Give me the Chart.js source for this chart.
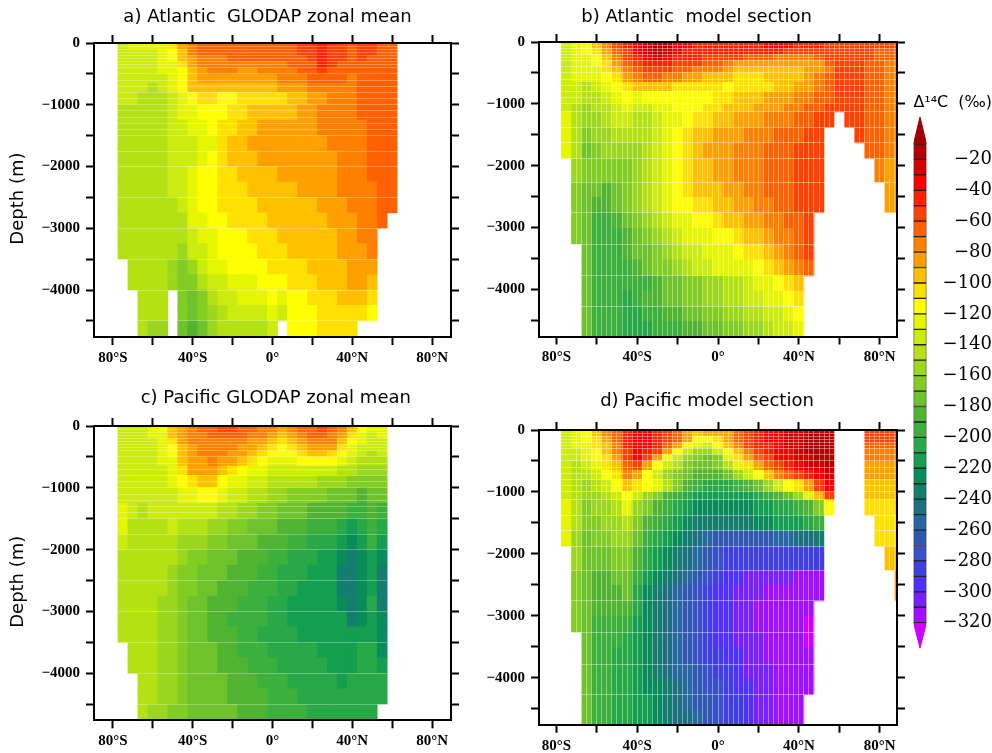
<!DOCTYPE html>
<html>
<head>
<meta charset="utf-8">
<title>Radiocarbon sections</title>
<script src="https://cdn.jsdelivr.net/npm/chart.js@4/dist/chart.umd.min.js"></script>
<style>
  html, body { margin: 0; padding: 0; background: #fff; }
  canvas { position: absolute; }
</style>
</head>
<body>
<canvas id="panelA" width="480" height="375" style="left:0;top:0"></canvas>
<canvas id="panelB" width="430" height="375" style="left:480px;top:0"></canvas>
<canvas id="panelC" width="480" height="375" style="left:0;top:378px"></canvas>
<canvas id="panelD" width="430" height="375" style="left:480px;top:378px"></canvas>
<canvas id="colorBar" width="87" height="585" style="left:905px;top:85px"></canvas>
<script>
// ====================================================
// DATA (values in permil)
// ====================================================
const n = null;

// column centres, degrees (negative = south)
const lats = [-75,-70,-65,-60,-55,-50,-45,-40,-35,-30,-25,-20,-15,-10,-5,0,5,10,15,20,25,30,35,40,45,50,55,60,65,70,75,80,85,90];

// layer edges, metres
const obsDepths = [0,100,200,300,400,500,650,800,1000,1250,1500,1750,2000,2250,2500,2750,3000,3250,3500,3750,4000,4250,4500,4760];
const modelDepths = [0,100,200,300,400,500,650,800,1000,1130,1380,1630,1880,2265,2510,2760,3010,3265,3520,3780,4025,4275,4520,4760];

const atlanticObs = [
  [-135,-125,-125,-125,-125,-105,-85,-75,-65,-65,-65,-65,-65,-65,-65,-65,-65,-65,-55,-55,-45,-55,-55,-65,-55,-55,-65,-65],
  [-135,-135,-135,-135,-125,-115,-95,-75,-65,-65,-65,-65,-65,-65,-65,-65,-65,-65,-55,-55,-45,-55,-55,-65,-55,-55,-65,-65],
  [-135,-135,-135,-135,-125,-115,-95,-85,-75,-75,-75,-65,-65,-65,-65,-65,-65,-65,-65,-55,-45,-55,-55,-65,-55,-65,-65,-65],
  [-135,-135,-135,-135,-125,-125,-105,-85,-75,-75,-75,-75,-75,-75,-75,-75,-75,-65,-65,-65,-45,-55,-65,-65,-65,-65,-65,-65],
  [-135,-135,-135,-135,-125,-125,-115,-95,-85,-75,-75,-75,-85,-85,-75,-75,-75,-75,-65,-65,-55,-65,-65,-65,-65,-65,-65,-65],
  [-135,-135,-135,-135,-135,-125,-115,-95,-85,-85,-85,-85,-85,-85,-85,-85,-75,-75,-75,-65,-65,-65,-65,-75,-65,-65,-65,-65],
  [-135,-135,-135,-145,-135,-125,-115,-95,-95,-95,-95,-95,-95,-95,-95,-95,-85,-85,-85,-75,-75,-75,-75,-75,-65,-65,-65,-65],
  [-135,-135,-145,-145,-145,-135,-125,-115,-105,-105,-115,-115,-105,-105,-105,-105,-105,-95,-95,-85,-85,-75,-75,-75,-65,-65,-65,-65],
  [-145,-145,-145,-145,-145,-135,-125,-125,-115,-115,-115,-105,-105,-95,-95,-95,-95,-95,-85,-85,-75,-75,-75,-75,-65,-65,-65,-65],
  [-145,-145,-145,-145,-145,-135,-135,-125,-125,-115,-105,-105,-95,-95,-85,-85,-85,-85,-85,-85,-75,-75,-75,-75,-75,-65,-65,-65],
  [-145,-145,-145,-145,-145,-135,-135,-135,-125,-125,-105,-95,-95,-85,-85,-85,-85,-85,-85,-85,-85,-75,-75,-75,-75,-65,-65,-65],
  [-145,-145,-145,-145,-145,-135,-135,-135,-125,-115,-105,-95,-95,-95,-85,-85,-85,-85,-85,-85,-85,-85,-75,-75,-75,-65,-65,-65],
  [-145,-145,-145,-145,-145,-135,-135,-125,-115,-115,-105,-105,-95,-95,-95,-95,-85,-85,-85,-85,-85,-85,-75,-75,-75,-65,-65,-65],
  [-145,-145,-145,-145,-145,-135,-135,-125,-115,-115,-105,-105,-105,-95,-95,-95,-95,-95,-85,-85,-85,-85,-75,-75,-75,-75,-65,-65],
  [-145,-145,-145,-145,-145,-145,-135,-125,-115,-115,-105,-105,-105,-105,-95,-95,-95,-95,-95,-95,-85,-85,-85,-75,-75,-75,-65,-65],
  [-145,-145,-145,-145,-145,-145,-145,-125,-125,-115,-115,-105,-105,-105,-105,-95,-95,-95,-95,-95,-95,-85,-85,-85,-75,-75,-65],
  [-145,-145,-145,-145,-145,-145,-145,-135,-125,-125,-115,-115,-115,-105,-105,-105,-95,-95,-95,-95,-95,-95,-85,-85,-75,-75],
  [-145,-145,-145,-145,-145,-145,-155,-135,-135,-125,-115,-115,-115,-115,-105,-105,-105,-95,-95,-95,-95,-95,-85,-85,-85,-75],
  [n,-145,-145,-145,-145,-155,-165,-155,-135,-125,-125,-115,-115,-115,-115,-105,-105,-105,-105,-95,-95,-95,-95,-85,-85,-85],
  [n,-145,-145,-145,-145,-155,-165,-165,-145,-135,-135,-125,-125,-125,-115,-115,-115,-105,-105,-105,-95,-95,-95,-85,-85,-95],
  [n,n,-145,-145,-145,n,-165,-175,-165,-145,-135,-135,-125,-125,-125,-115,-125,-115,-115,-105,-105,-105,-95,-95,-95,-105],
  [n,n,-145,-145,-145,n,-165,-175,-165,-155,-145,-135,-135,-135,-135,-125,-135,-115,-115,-115,-105,-105,-105,-105,-105,-115],
  [n,n,-145,-155,-155,n,-175,-185,-175,-155,-145,-145,-145,-145,-145,-135,n,-115,-115,-115,-105,-105,-105,-105]
];

const atlanticModel = [
  [-135,-125,-115,-95,-75,-55,-45,-35,-25,-15,-15,-35,-35,-45,-45,-45,-45,-45,-45,-45,-35,-35,-35,-45,-45,-45,-55,-55,-55,-55,-55,-55,-55,-55],
  [-135,-125,-115,-105,-85,-65,-55,-35,-25,-15,-25,-35,-45,-45,-45,-45,-45,-45,-45,-45,-45,-45,-55,-55,-55,-55,-55,-55,-55,-55,-55,-65,-65,-65],
  [-135,-125,-125,-115,-95,-75,-55,-45,-35,-25,-35,-45,-45,-45,-55,-55,-55,-55,-65,-65,-65,-75,-75,-75,-75,-65,-55,-55,-55,-55,-55,-65,-65,-65],
  [-135,-125,-125,-115,-105,-85,-65,-55,-45,-45,-45,-55,-55,-55,-65,-65,-75,-85,-85,-85,-85,-85,-85,-85,-85,-85,-65,-55,-55,-55,-65,-65,-75,-75],
  [-135,-125,-125,-125,-105,-95,-75,-65,-55,-55,-55,-65,-65,-75,-75,-75,-85,-95,-95,-95,-95,-95,-95,-95,-85,-85,-75,-55,-55,-55,-65,-65,-75,-75],
  [-135,-125,-125,-125,-115,-105,-85,-75,-65,-65,-75,-75,-85,-85,-95,-95,-95,-105,-105,-105,-95,-95,-95,-95,-85,-75,-65,-55,-55,-55,-65,-65,-75,-75],
  [-135,-135,-145,-135,-125,-115,-105,-95,-95,-95,-95,-105,-105,-105,-105,-105,-115,-105,-105,-105,-105,-95,-95,-85,-85,-75,-65,-55,-55,-55,-65,-65,-75,-75],
  [-135,-135,-145,-145,-135,-125,-115,-125,-115,-115,-115,-115,-115,-115,-115,-105,-105,-95,-95,-95,-85,-85,-85,-75,-75,-65,-65,-55,-55,-55,-65,-65,-75,-75],
  [-135,-145,-155,-145,-145,-135,-125,-135,-135,-125,-125,-115,-115,-115,-105,-105,-95,-95,-95,-85,-85,-85,-75,-75,-65,-65,-55,-55,-55,-55,-65,-65,-75,-75],
  [-125,-145,-155,-155,-145,-135,-135,-145,-145,-135,-125,-125,-115,-105,-105,-95,-95,-85,-85,-85,-75,-75,-75,-65,-65,-55,-55,n,-55,-55,-65,-65,-75,-75],
  [-125,-145,-165,-155,-155,-145,-145,-145,-145,-135,-125,-115,-105,-95,-95,-85,-85,-85,-75,-75,-75,-65,-65,-65,-55,-55,n,n,n,-55,-65,-65,-75,-75],
  [-125,-145,-175,-165,-155,-155,-155,-155,-145,-135,-125,-115,-105,-95,-85,-85,-85,-75,-75,-75,-65,-65,-65,-55,-55,-55,n,n,n,n,-65,-65,-75,-85],
  [n,-155,-165,-165,-165,-165,-165,-155,-145,-135,-125,-115,-105,-95,-95,-85,-85,-75,-75,-75,-65,-65,-65,-55,-55,-55,n,n,n,n,n,-75,-85,-85],
  [n,-165,-175,-175,-185,-175,-165,-155,-145,-135,-125,-115,-105,-95,-95,-95,-85,-85,-75,-75,-65,-65,-65,-55,-55,-55,n,n,n,n,n,n,-85,-85],
  [n,-165,-175,-185,-185,-175,-165,-155,-145,-135,-125,-115,-115,-105,-105,-95,-95,-85,-85,-75,-75,-65,-65,-55,-55,-55,n,n,n,n,n,n,-85,-85],
  [n,-165,-175,-195,-195,-185,-175,-165,-155,-145,-135,-125,-125,-115,-115,-105,-95,-95,-85,-85,-75,-75,-65,-65,-55],
  [n,-165,-175,-195,-195,-195,-185,-175,-165,-155,-145,-135,-125,-125,-125,-115,-115,-105,-95,-95,-85,-75,-75,-65,-55],
  [n,n,-175,-195,-195,-195,-185,-175,-175,-165,-155,-145,-135,-135,-125,-125,-125,-115,-105,-105,-95,-85,-75,-65,-55],
  [n,n,-175,-195,-195,-195,-195,-185,-175,-165,-165,-155,-145,-135,-135,-125,-125,-125,-125,-115,-105,-95,-85,-75,-65],
  [n,n,-175,-195,-195,-195,-195,-195,-195,-185,-175,-175,-165,-165,-155,-155,-145,-145,-135,-125,-125,-115,-105,-95],
  [n,n,-175,-195,-195,-195,-205,-195,-185,-185,-175,-175,-165,-165,-155,-155,-145,-145,-135,-135,-125,-125,-115,-105],
  [n,n,-175,-195,-195,-195,-205,-205,-195,-195,-185,-185,-175,-175,-165,-165,-155,-155,-145,-145,-135,-135,-125,-115],
  [n,n,-175,-195,-195,-195,-205,-205,-205,-195,-195,-195,-185,-185,-175,-175,-165,-165,-155,-155,-145,-135,-135,-125]
];

const pacificObs = [
  [-135,-135,-135,-125,-115,-95,-85,-75,-65,-65,-55,-55,-65,-65,-75,-75,-85,-75,-65,-65,-55,-65,-75,-95,-115,-125,-125],
  [-135,-135,-135,-125,-125,-95,-85,-75,-75,-65,-65,-65,-65,-75,-75,-85,-95,-85,-75,-65,-65,-75,-85,-105,-125,-135,-125],
  [-135,-135,-135,-135,-125,-105,-85,-75,-75,-75,-75,-75,-75,-85,-85,-95,-105,-95,-85,-75,-75,-75,-95,-115,-125,-135,-135],
  [-135,-135,-135,-135,-125,-115,-95,-85,-75,-75,-75,-75,-85,-85,-95,-105,-115,-105,-95,-85,-85,-85,-105,-125,-135,-135,-135],
  [-135,-135,-135,-135,-125,-115,-95,-85,-75,-75,-75,-85,-85,-95,-105,-115,-115,-115,-105,-95,-95,-105,-115,-125,-135,-145,-135],
  [-135,-135,-135,-135,-125,-125,-95,-85,-85,-75,-85,-85,-95,-105,-115,-125,-125,-125,-115,-115,-115,-115,-125,-135,-145,-145,-145],
  [-135,-135,-135,-135,-135,-125,-105,-85,-85,-85,-95,-105,-115,-125,-125,-135,-135,-135,-135,-135,-135,-135,-145,-145,-155,-155,-155],
  [-135,-135,-135,-135,-135,-125,-115,-105,-95,-95,-115,-125,-125,-135,-135,-145,-145,-145,-145,-145,-155,-155,-155,-165,-165,-165,-165],
  [-135,-135,-135,-135,-135,-135,-125,-125,-115,-115,-125,-135,-135,-145,-145,-155,-155,-165,-165,-165,-165,-175,-175,-175,-185,-175,-175],
  [-125,-135,-145,-135,-135,-135,-135,-135,-135,-135,-145,-145,-155,-155,-165,-165,-175,-175,-175,-185,-185,-185,-185,-195,-195,-185,-195],
  [-125,-145,-145,-145,-145,-135,-145,-145,-145,-155,-155,-165,-165,-175,-175,-175,-185,-185,-185,-195,-195,-195,-205,-215,-205,-195,-205],
  [-135,-145,-145,-145,-145,-145,-155,-155,-155,-165,-165,-175,-175,-175,-185,-185,-185,-195,-195,-205,-205,-205,-215,-225,-215,-195,-215],
  [-145,-145,-145,-145,-145,-145,-155,-165,-165,-175,-175,-175,-185,-185,-185,-195,-195,-205,-205,-205,-215,-215,-225,-235,-225,-215,-225],
  [-145,-145,-145,-145,-145,-155,-165,-165,-175,-175,-175,-185,-185,-185,-195,-195,-205,-205,-205,-215,-215,-215,-235,-235,-225,-215,-235],
  [-145,-145,-145,-145,-145,-155,-165,-165,-175,-175,-185,-185,-185,-195,-195,-195,-205,-205,-215,-215,-215,-215,-235,-235,-225,-215,-235],
  [-145,-145,-145,-145,-155,-155,-165,-175,-175,-185,-185,-185,-195,-195,-195,-205,-205,-215,-215,-215,-215,-215,-225,-235,-225,-205,-235],
  [-145,-145,-145,-145,-155,-155,-165,-175,-175,-185,-185,-195,-195,-195,-195,-205,-205,-215,-215,-215,-215,-215,-215,-235,-225,-215,-225],
  [-145,-145,-145,-145,-155,-155,-165,-175,-175,-185,-185,-185,-195,-195,-205,-205,-205,-205,-215,-215,-215,-215,-215,-215,-215,-215,-225],
  [n,-145,-145,-145,-155,-155,-165,-175,-175,-175,-185,-185,-195,-195,-195,-205,-205,-205,-205,-205,-215,-215,-215,-215,-205,-205,-225],
  [n,-145,-145,-145,-155,-155,-165,-175,-175,-175,-185,-185,-185,-195,-195,-195,-205,-205,-205,-205,-205,-215,-215,-215,-205,-205,-215],
  [n,n,-145,-145,-155,-155,-165,-175,-175,-175,-175,-185,-185,-185,-195,-195,-195,-205,-205,-205,-205,-205,-215,-205,-205,-205,-205],
  [n,n,-145,-145,-155,-155,-165,-175,-175,-175,-175,-185,-185,-185,-185,-195,-195,-195,-205,-205,-205,-205,-205,-205,-205,-205,-205],
  [n,n,-145,-155,-155,-165,-165,-175,-175,-175,-175,-175,-185,-185,-185,-195,-195,-195,-195,-205,-205,-205,-205,-205,-205,-205]
];

const pacificModel = [
  [-135,-125,-115,-95,-75,-65,-45,-35,-35,-45,-55,-65,-85,-95,-85,-85,-85,-65,-55,-45,-35,-35,-25,-25,-15,-15,-15,n,n,n,-55,-55,-55,-55],
  [-135,-125,-115,-105,-85,-65,-45,-35,-35,-45,-55,-65,-85,-115,-115,-105,-85,-65,-55,-45,-35,-35,-25,-25,-15,-15,-15,n,n,n,-55,-55,-55,-55],
  [-135,-125,-125,-105,-95,-75,-45,-35,-35,-45,-65,-85,-115,-125,-135,-115,-95,-75,-55,-45,-45,-35,-25,-25,-15,-15,-15,n,n,n,-65,-65,-65,-65],
  [-135,-135,-125,-115,-95,-75,-55,-35,-45,-55,-85,-115,-135,-155,-155,-135,-115,-95,-75,-55,-45,-35,-35,-25,-15,-15,-15,n,n,n,-75,-75,-75,-75],
  [-135,-135,-125,-115,-105,-85,-55,-35,-55,-85,-115,-135,-155,-165,-175,-165,-125,-105,-85,-65,-55,-35,-35,-25,-25,-15,-15,n,n,n,-75,-75,-75,-75],
  [-135,-145,-135,-125,-105,-95,-65,-55,-85,-115,-135,-145,-165,-175,-175,-165,-145,-125,-105,-85,-65,-55,-45,-35,-25,-25,-15,n,n,n,-85,-85,-85,-85],
  [-135,-145,-145,-135,-115,-105,-75,-85,-115,-135,-155,-165,-175,-185,-185,-185,-175,-155,-135,-115,-95,-75,-65,-55,-45,-35,-25,n,n,n,-85,-85,-85,-85],
  [-135,-145,-155,-145,-135,-115,-95,-105,-115,-125,-145,-165,-185,-195,-205,-205,-205,-195,-185,-175,-155,-135,-115,-105,-85,-55,-35,n,n,n,-95,-95,-95,-85],
  [-135,-145,-155,-155,-145,-135,-115,-135,-155,-165,-185,-195,-205,-215,-215,-215,-215,-215,-215,-205,-195,-185,-175,-155,-125,-95,-55,n,n,n,-95,-95,-95,-95],
  [-125,-145,-165,-155,-155,-145,-125,-155,-165,-185,-195,-205,-215,-225,-225,-225,-225,-225,-225,-215,-215,-205,-205,-195,-185,-165,-115,n,n,n,-105,-105,-105,-95],
  [-125,-145,-165,-165,-155,-155,-145,-165,-185,-195,-205,-215,-225,-235,-235,-235,-235,-235,-235,-225,-225,-215,-215,-215,-205,-195,n,n,n,n,n,-105,-105,-105],
  [-125,-155,-175,-165,-165,-155,-155,-175,-195,-205,-215,-225,-235,-245,-255,-265,-265,-265,-265,-265,-265,-255,-255,-245,-245,-235,n,n,n,n,n,-105,-105,-105],
  [n,-155,-175,-175,-175,-165,-165,-185,-205,-215,-225,-235,-245,-255,-265,-275,-285,-285,-285,-285,-285,-285,-285,-285,-285,-285,n,n,n,n,n,n,-95,-95],
  [n,-165,-175,-185,-185,-175,-175,-195,-215,-225,-235,-245,-255,-265,-275,-285,-295,-295,-305,-305,-305,-305,-305,-315,-315,-315,n,n,n,n,n,n,n,-85],
  [n,-165,-175,-185,-185,-185,-175,-205,-225,-235,-245,-255,-265,-275,-285,-295,-295,-305,-305,-305,-315,-315,-315,-315,-315,-315,n,n,n,n,n,n,n,-85],
  [n,-165,-175,-185,-185,-185,-185,-205,-225,-235,-245,-255,-265,-275,-285,-295,-295,-305,-305,-315,-315,-315,-315,-315,-315],
  [n,-165,-175,-195,-195,-195,-195,-215,-225,-235,-245,-255,-265,-275,-285,-295,-295,-305,-305,-315,-315,-315,-315,-315,-325],
  [n,n,-175,-195,-195,-195,-205,-215,-225,-235,-245,-255,-265,-275,-285,-295,-295,-305,-305,-305,-315,-315,-315,-315,-325],
  [n,n,-175,-195,-195,-205,-205,-215,-225,-235,-245,-255,-265,-275,-285,-285,-295,-295,-305,-305,-315,-315,-315,-315,-315],
  [n,n,-175,-195,-195,-205,-205,-215,-225,-235,-245,-255,-255,-265,-275,-285,-285,-295,-305,-305,-305,-315,-315,-315,-315],
  [n,n,-175,-195,-195,-205,-205,-215,-225,-225,-235,-245,-255,-265,-275,-275,-285,-295,-295,-305,-305,-315,-315,-315,-315],
  [n,n,-175,-195,-195,-205,-205,-215,-215,-225,-235,-245,-255,-265,-265,-275,-285,-285,-295,-305,-305,-315,-315,-315],
  [n,n,-175,-195,-195,-205,-205,-215,-215,-225,-235,-245,-245,-255,-265,-275,-285,-285,-295,-305,-305,-315,-315,-315]
];

// colour bar: first entry is the top arrow, last entry the bottom arrow
const bandEdges = [-10,-20,-30,-40,-50,-60,-70,-80,-90,-100,-110,-120,-130,-140,-150,-160,-170,-180,-190,-200,-210,-220,-230,-240,-250,-260,-270,-280,-290,-300,-310,-320];
const bandColors = [
  "#a00000","#b40000","#d20000","#ff0000","#ff2000","#ff4000","#ff6000","#ff8000","#ffa000","#ffc000","#ffe000",
  "#ffff00","#e6f500","#cceb0f","#b4e114","#9bd71e","#82cd23","#6ec32d","#50b432","#3cb03c","#28a846","#149e50",
  "#0a8c5a","#147d70","#1e7080","#2868a0","#3058b0","#3850c8","#4040e0","#5030ff","#7820ff","#a010ff","#d000ff"
];

// axis ticks
const latMajor = [-80,-60,-40,-20,0,20,40,60,80];
const depthMajor = [0,-500,-1000,-1500,-2000,-2500,-3000,-3500,-4000,-4500];
const latTicks = [-80,-40,0,40,80];
const latTickLabels = ["80°S","40°S","0°","40°N","80°N"];

// white seams left between model / observation layers
const obsSeams = [-50,-100,-150,-200,-250,-300,-350,-400,-500,-600,-700,-800,-900,-1000,-1100,-1200,-1300,-1400,-1500,-1750,-2000,-2500,-3000,-3500,-4000,-4500];
const modelSeams = [-50,-100,-150,-200,-250,-300,-400,-500,-600,-700,-800,-900,-1000,-1130,-1380,-1630,-1880,-2265,-2760,-3265,-3780,-4275];
const modelLatSeams = [];
for (let v = -70; v <= 87.5; v += 2.5) modelLatSeams.push(v);


// ====================================================
// HELPERS
// ====================================================
const TICK_FONT = { family: "Liberation Serif", size: 15, weight: "bold" };

function bandColor(v) {
  const i = Math.floor((-v - 10) / 10) + 1;
  return bandColors[Math.max(0, Math.min(bandColors.length - 1, i))];
}

function minus(v) {
  return v < 0 ? "\u2212" + (-v) : String(v);
}

function buildCells(values, depths) {
  const cells = [];
  values.forEach((row, r) => {
    row.forEach((v, c) => {
      if (v === null) return;
      cells.push({ x: lats[c], y: [-depths[r], -depths[r + 1]], v: v });
    });
  });
  return cells;
}

function fixedHeight(h) { return s => { s.height = h; }; }
function fixedWidth(w) { return s => { s.width = w; }; }
function fixedTicks(list) { return s => { s.ticks = list.map(v => ({ value: v })); }; }

// outer frame axis with ticks pointing out
function frameAxis(position, range, tickValues, size, labels) {
  const horizontal = position === "top" || position === "bottom";
  return {
    type: "linear",
    position: position,
    min: range[0],
    max: range[1],
    offset: false,
    afterFit: horizontal ? fixedHeight(size) : fixedWidth(size),
    afterBuildTicks: fixedTicks(tickValues),
    border: { display: true, color: "#000", width: 2, z: 3 },
    grid: { offset: false, drawOnChartArea: false, drawTicks: true, tickLength: 8, tickWidth: 2, tickColor: "#000" },
    ticks: {
      display: !!labels,
      autoSkip: false,
      maxRotation: 0,
      padding: horizontal ? 4 : 6,
      color: "#000",
      font: TICK_FONT,
      callback: labels || (() => "")
    }
  };
}

// hidden axis that only paints thin white lines over the cells
function seamAxis(position, range, seams, alpha) {
  const horizontal = position === "bottom";
  return {
    type: "linear",
    position: position,
    min: range[0],
    max: range[1],
    offset: false,
    afterFit: horizontal ? fixedHeight(0) : fixedWidth(0),
    afterBuildTicks: fixedTicks(seams),
    border: { display: false },
    grid: { offset: false, z: 1, drawTicks: false, color: "rgba(255,255,255," + alpha + ")", lineWidth: 1 },
    ticks: { display: false, autoSkip: false }
  };
}

function latLabel(v) {
  const i = latTicks.indexOf(v);
  return i >= 0 ? latTickLabels[i] : "";
}

function depthLabel(v) {
  return v % 1000 === 0 ? minus(v) : "";
}


// ====================================================
// ONE SECTION PANEL
// ====================================================
function drawPanel(id, cfg) {
  const cells = buildCells(cfg.values, cfg.depths);
  const yRange = [-4760, 0];
  const xRange = [-cfg.xHalf, cfg.xHalf];
  const titleLine = 18 * 1.2;
  const scales = {
    x: frameAxis("bottom", xRange, latMajor, cfg.bottom, latLabel),
    xTop: frameAxis("top", xRange, latMajor, 8),
    y: frameAxis("left", yRange, depthMajor, cfg.left, depthLabel),
    yRight: frameAxis("right", yRange, depthMajor, cfg.right),
    ySeam: seamAxis("left", yRange, cfg.seams, cfg.seamAlpha)
  };
  if (cfg.vertical) scales.xSeam = seamAxis("bottom", xRange, modelLatSeams, cfg.seamAlpha);
  if (cfg.yTitle) {
    scales.y.title = { display: true, text: cfg.yTitle, color: "#000", padding: { top: 8, bottom: 0 }, font: { family: "DejaVu Sans", size: 18 } };
  }

  new Chart(document.getElementById(id), {
    type: "bar",
    data: {
      datasets: [{
        data: cells,
        backgroundColor: cells.map(c => bandColor(c.v)),
        borderWidth: 0,
        barPercentage: 1,
        categoryPercentage: 1,
        grouped: false
      }]
    },
    plugins: [{
      id: "titleCentre",
      afterLayout(chart) {
        chart.titleBlock.left = cfg.titleX - 230;
        chart.titleBlock.right = cfg.titleX + 230;
      }
    }],
    options: {
      responsive: false,
      animation: false,
      devicePixelRatio: 1,
      layout: { padding: 0 },
      scales: scales,
      plugins: {
        legend: { display: false },
        tooltip: { enabled: false },
        title: {
          display: true,
          text: cfg.title,
          color: "#000",
          font: { family: "DejaVu Sans", size: 18, weight: "normal" },
          padding: { top: cfg.titleY - titleLine / 2, bottom: cfg.top - 8 - titleLine - (cfg.titleY - titleLine / 2) }
        }
      }
    }
  });
}

drawPanel("panelA", {
  title: "a) Atlantic  GLODAP zonal mean", titleX: 267.5, titleY: 17, top: 43,
  values: atlanticObs, depths: obsDepths, seams: obsSeams, seamAlpha: 0.3, vertical: false,
  xHalf: 89.5, left: 94, right: 29, bottom: 38, yTitle: "Depth (m)   "
});
drawPanel("panelB", {
  title: "b) Atlantic  model section", titleX: 216.7, titleY: 17, top: 42,
  values: atlanticModel, depths: modelDepths, seams: modelSeams, seamAlpha: 0.4, vertical: true,
  xHalf: 88.6, left: 59, right: 13, bottom: 38.5
});
drawPanel("panelC", {
  title: "c) Pacific GLODAP zonal mean", titleX: 275.8, titleY: 20.7, top: 48,
  values: pacificObs, depths: obsDepths, seams: obsSeams, seamAlpha: 0.3, vertical: false,
  xHalf: 89.5, left: 94, right: 29, bottom: 32.7, yTitle: "Depth (m)   "
});
drawPanel("panelD", {
  title: "d) Pacific model section", titleX: 227, titleY: 23, top: 52,
  values: pacificModel, depths: modelDepths, seams: modelSeams, seamAlpha: 0.4, vertical: true,
  xHalf: 88.6, left: 59, right: 13, bottom: 28.3
});


// ====================================================
// COLOUR BAR
// ====================================================
const barCells = bandEdges.slice(0, -1).map((top, i) => ({ x: 0.5, y: [top, bandEdges[i + 1]] }));

new Chart(document.getElementById("colorBar"), {
  type: "bar",
  data: {
    datasets: [
      {
        data: barCells,
        backgroundColor: bandColors.slice(1, -1),
        borderColor: "#222",
        borderWidth: 1,
        borderSkipped: false,
        barPercentage: 1,
        categoryPercentage: 1,
        grouped: false
      },
      {
        type: "line",
        data: [{ x: 0, y: -10 }, { x: 0.5, y: 7.5 }, { x: 1, y: -10 }],
        backgroundColor: bandColors[0],
        borderColor: bandColors[0],
        borderWidth: 1,
        pointRadius: 0,
        tension: 0,
        fill: { target: { value: -10 } }
      },
      {
        type: "line",
        data: [{ x: 0, y: -320 }, { x: 0.5, y: -336.5 }, { x: 1, y: -320 }],
        backgroundColor: bandColors[bandColors.length - 1],
        borderColor: bandColors[bandColors.length - 1],
        borderWidth: 1,
        pointRadius: 0,
        tension: 0,
        fill: { target: { value: -320 } }
      }
    ]
  },
  options: {
    responsive: false,
    animation: false,
    devicePixelRatio: 1,
    layout: { padding: { left: 8.5, bottom: 16.4 } },
    scales: {
      x: { type: "linear", display: false, min: 0, max: 1, offset: false, grid: { offset: false } },
      y: {
        type: "linear",
        position: "right",
        min: -340,
        max: 10,
        afterFit: fixedWidth(65.5),
        afterBuildTicks: fixedTicks(bandEdges.filter(v => v % 20 === 0)),
        border: { display: false },
        grid: { display: false, drawTicks: false },
        ticks: {
          crossAlign: "far",
          autoSkip: false,
          padding: -8.5,
          color: "#000",
          font: { family: "DejaVu Serif", size: 18 },
          callback: v => minus(v)
        }
      }
    },
    plugins: {
      legend: { display: false },
      tooltip: { enabled: false },
      title: {
        display: true,
        text: "\u0394\u00b9\u2074C  (\u2030)",
        color: "#000",
        font: { family: "DejaVu Sans", size: 16, weight: "normal" },
        padding: { top: 8.4, bottom: 0.5 }
      }
    }
  }
});
</script>
</body>
</html>
